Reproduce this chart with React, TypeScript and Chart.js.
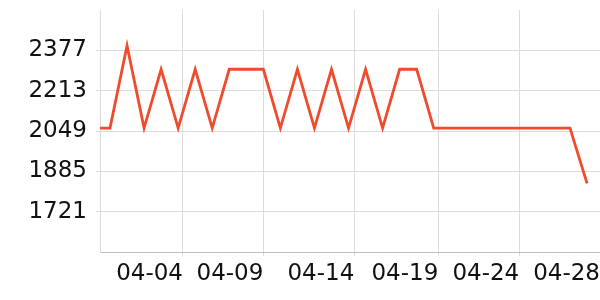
import React, { useEffect, useRef } from "react";
import { Chart, registerables } from "chart.js";

Chart.register(...registerables);

// Series values (first point lies just before the visible window)
const values = [
  2061, 2061, 2396, 2061, 2300, 2061, 2300, 2061, 2300, 2300, 2300,
  2061, 2300, 2061, 2300, 2061, 2300, 2061, 2300, 2300, 2061,
  2061, 2061, 2061, 2061, 2061, 2061, 2061, 2061, 1836,
];
// Day index of each value
const dayIndex = values.map((_, i) => i - 1);

// X tick labels and their positions on the day axis
const xTickLabels = ["04-04", "04-09", "04-14", "04-19", "04-24", "04-28"];
const xTickValues = [4.284, 9.0, 14.34, 19.27, 24.02, 28.76];

// Y ticks
const yTickValues = [1557, 1721, 1885, 2049, 2213, 2377, 2541];

const X_MIN = -0.587;
const X_MAX = 28.76;

const zeroPad = (scale: any) => {
  scale.paddingTop = 0;
  scale.paddingBottom = 0;
  scale.paddingLeft = 0;
  scale.paddingRight = 0;
};

export default function App() {
  const ref = useRef<HTMLCanvasElement | null>(null);

  useEffect(() => {
    if (!ref.current) return;
    const font = { family: "DejaVu Sans", size: 23 };
    const chart = new Chart(ref.current, {
      type: "line",
      data: {
        datasets: [
          {
            data: values.map((v, i) => ({ x: dayIndex[i], y: v })),
            borderColor: "#ef4b2c",
            borderWidth: 2.8,
            pointRadius: 0,
            tension: 0,
            fill: false,
          },
        ],
      },
      options: {
        animation: false,
        responsive: false,
        devicePixelRatio: 1,
        layout: { padding: { top: 10, right: 0, left: 0, bottom: 0 } },
        plugins: { legend: { display: false }, tooltip: { enabled: false } },
        scales: {
          x: {
            type: "linear",
            min: X_MIN,
            max: X_MAX,
            afterBuildTicks: (scale: any) => {
              scale.ticks = xTickValues.map((v) => ({ value: v }));
            },
            afterFit: (scale: any) => {
              scale.height = 48;
              zeroPad(scale);
            },
            ticks: {
              autoSkip: false,
              maxRotation: 0,
              minRotation: 0,
              align: "end",
              padding: 4,
              color: "#111",
              font,
              callback: (_v: any, i: number) => xTickLabels[i],
            },
            grid: {
              color: "#dcdcdc",
              lineWidth: 1,
              tickLength: 4,
              drawTicks: true,
            },
            border: { color: "#bdbdbd", width: 1 },
          },
          y: {
            type: "linear",
            min: yTickValues[0],
            max: yTickValues[yTickValues.length - 1],
            afterBuildTicks: (scale: any) => {
              scale.ticks = yTickValues.map((v) => ({ value: v }));
            },
            afterFit: (scale: any) => {
              scale.width = 100;
              zeroPad(scale);
            },
            ticks: {
              padding: 9,
              color: "#111",
              font,
              callback: (v: any, i: number) =>
                i === 0 || i === yTickValues.length - 1 ? null : String(v),
            },
            grid: {
              color: "#dcdcdc",
              lineWidth: 1,
              tickLength: 4,
              drawTicks: true,
            },
            border: { color: "#dcdcdc", width: 1 },
          },
        },
      },
    });
    return () => chart.destroy();
  }, []);

  return (
    <div style={{ position: "fixed", left: 0, top: 0, width: 600, height: 300 }}>
      <canvas ref={ref} width={600} height={300} />
    </div>
  );
}
